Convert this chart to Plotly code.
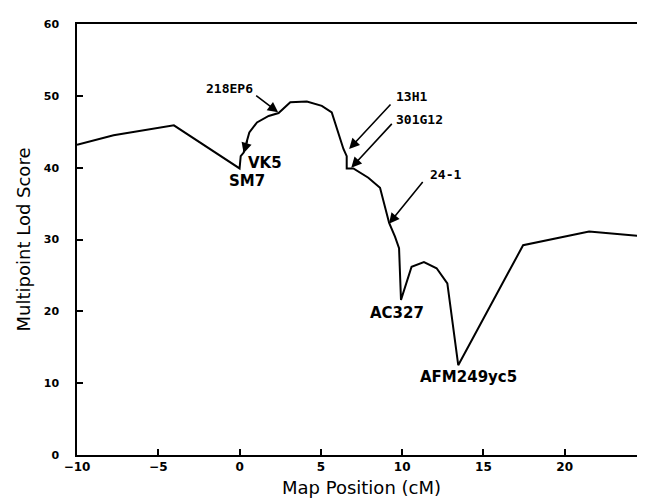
import plotly.graph_objects as go

# Data
map_pos = [-10, -7.75, -4.04, 0.0, 0.07, 0.25, 0.6, 1.07, 1.79, 2.4, 3.12, 4.14, 5.06, 5.67,
           6.39, 6.59, 6.59, 7.0, 7.92, 8.64, 9.2, 9.56, 9.81, 9.93, 10.58, 11.34, 12.12,
           12.78, 13.45, 17.44, 21.5, 25]
lod = [43.2, 44.5, 45.9, 39.9, 41.6, 42.1, 44.9, 46.3, 47.2, 47.6, 49.1, 49.2, 48.6, 47.7,
       42.6, 41.6, 39.9, 39.9, 38.6, 37.2, 32.3, 30.4, 28.8, 21.6, 26.2, 26.85, 26.0,
       23.9, 12.5, 29.2, 31.1, 30.4]

x_ticks = [-10, -5, 0, 5, 10, 15, 20, 25]
y_ticks = [0, 10, 20, 30, 40, 50, 60]

# arrow markers: (label, tail x, tail y, head x, head y, text x, text y)
arrow_labels = ["218EP6", "13H1", "301G12", "24-1", ""]
arrow_tail_x = [0.93, 9.37, 9.45, 11.34, 0.51]
arrow_tail_y = [50.2, 49.0, 46.3, 38.2, 44.0]
arrow_head_x = [2.37, 6.74, 6.87, 9.19, 0.25]
arrow_head_y = [47.7, 42.6, 40.0, 32.2, 42.0]
arrow_text_x = [-0.61, 10.57, 11.09, 12.65, 0]
arrow_text_y = [51.0, 49.9, 46.7, 39.1, 0]

# large marker labels
big_labels = ["VK5", "SM7", "AC327", "AFM249yc5"]
big_x = [1.54, 0.45, 9.7, 14.06]
big_y = [40.7, 38.2, 19.7, 10.8]

fig = go.Figure()
fig.add_trace(go.Scatter(x=map_pos, y=lod, mode="lines",
                         line=dict(color="black", width=2), showlegend=False,
                         hoverinfo="skip"))

annotations = []
for lab, tx, ty, hx, hy, lx, ly in zip(arrow_labels, arrow_tail_x, arrow_tail_y,
                                         arrow_head_x, arrow_head_y, arrow_text_x, arrow_text_y):
    annotations.append(dict(x=hx, y=hy, ax=tx, ay=ty, xref="x", yref="y", axref="x", ayref="y",
                            text="", showarrow=True, arrowhead=2, arrowsize=1.3,
                            arrowwidth=1.6, arrowcolor="black"))
    if lab:
        annotations.append(dict(x=lx, y=ly, xref="x", yref="y", text="<b>" + lab + "</b>",
                                showarrow=False,
                                font=dict(family="DejaVu Sans Mono", size=13, color="black")))
for lab, lx, ly in zip(big_labels, big_x, big_y):
    annotations.append(dict(x=lx, y=ly, xref="x", yref="y", text="<b>" + lab + "</b>", showarrow=False,
                            font=dict(family="DejaVu Sans", size=15, color="black")))

fig.update_layout(
    width=645, height=499,
    margin=dict(l=69, r=7, t=16, b=52, autoexpand=False),
    paper_bgcolor="white", plot_bgcolor="white",
    annotations=annotations,
    xaxis=dict(range=[-10, 25], tickvals=x_ticks, ticktext=[("−" + str(-v)) if v < 0 else str(v) for v in x_ticks],
               ticks="inside", ticklen=6, tickwidth=1.5, tickcolor="black",
               showline=True, linecolor="black", linewidth=1.5, mirror=True,
               showgrid=False, zeroline=False, ticklabeloverflow="allow",
               tickfont=dict(family="DejaVu Sans", size=12, color="black", weight="bold"),
               title=dict(text="Map Position (cM)", standoff=8,
                          font=dict(family="DejaVu Sans", size=18, color="black"))),
    yaxis=dict(range=[0, 60], tickvals=y_ticks,
               ticks="inside", ticklen=6, tickwidth=1.5, tickcolor="black",
               showline=True, linecolor="black", linewidth=1.5, mirror=True,
               showgrid=False, zeroline=False, ticklabelstandoff=14,
               tickfont=dict(family="DejaVu Sans", size=11, color="black", weight="bold"),
               title=dict(text="Multipoint Lod Score", standoff=8,
                          font=dict(family="DejaVu Sans", size=18, color="black"))),
)

fig.write_html("out.html")
